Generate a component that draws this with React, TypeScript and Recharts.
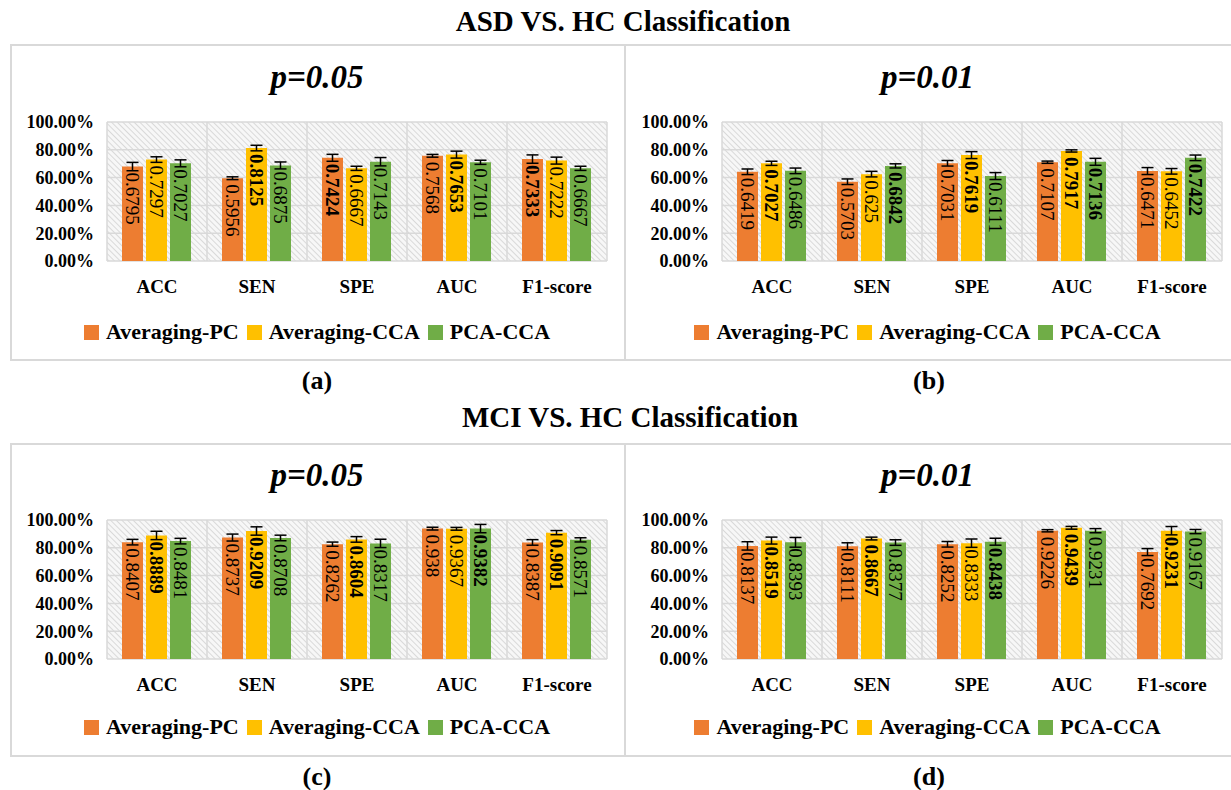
import React from 'react';
import { BarChart, Bar, XAxis, YAxis, CartesianGrid, ErrorBar, LabelList, Legend } from 'recharts';

// ---------- data ----------
const categories = ['ACC', 'SEN', 'SPE', 'AUC', 'F1-score'];
const seriesNames = ['Averaging-PC', 'Averaging-CCA', 'PCA-CCA'];
const yTicks = [0, 0.2, 0.4, 0.6, 0.8, 1.0];

// (a) ASD vs HC, p=0.05
const aPC = [0.6795, 0.5956, 0.7424, 0.7568, 0.7333];
const aCCA = [0.7297, 0.8125, 0.6667, 0.7653, 0.7222];
const aPCA = [0.7027, 0.6875, 0.7143, 0.7101, 0.6667];
const aPCErr = [0.03, 0.01, 0.025, 0.01, 0.03];
const aCCAErr = [0.02, 0.02, 0.015, 0.025, 0.025];
const aPCAErr = [0.025, 0.025, 0.03, 0.015, 0.015];
const aBold = [[], [1], [0], [1], [0]];

// (b) ASD vs HC, p=0.01
const bPC = [0.6419, 0.5703, 0.7031, 0.7107, 0.6471];
const bCCA = [0.7027, 0.625, 0.7619, 0.7917, 0.6452];
const bPCA = [0.6486, 0.6842, 0.6111, 0.7136, 0.7422];
const bPCErr = [0.02, 0.02, 0.02, 0.008, 0.025];
const bCCAErr = [0.015, 0.02, 0.025, 0.008, 0.02];
const bPCAErr = [0.02, 0.015, 0.025, 0.025, 0.02];
const bBold = [[1], [2], [1], [1, 2], [2]];

// (c) MCI vs HC, p=0.05
const cPC = [0.8407, 0.8737, 0.8262, 0.938, 0.8387];
const cCCA = [0.8889, 0.9209, 0.8604, 0.9367, 0.9091];
const cPCA = [0.8481, 0.8708, 0.8317, 0.9382, 0.8571];
const cPCErr = [0.02, 0.025, 0.015, 0.01, 0.02];
const cCCAErr = [0.03, 0.03, 0.02, 0.01, 0.015];
const cPCAErr = [0.02, 0.02, 0.03, 0.03, 0.015];
const cBold = [[1], [1], [1], [2], [1]];

// (d) MCI vs HC, p=0.01
const dPC = [0.8137, 0.8111, 0.8252, 0.9226, 0.7692];
const dCCA = [0.8519, 0.8667, 0.8333, 0.9439, 0.9231];
const dPCA = [0.8393, 0.8377, 0.8438, 0.9231, 0.9167];
const dPCErr = [0.03, 0.025, 0.02, 0.008, 0.025];
const dCCAErr = [0.025, 0.01, 0.03, 0.01, 0.03];
const dPCAErr = [0.035, 0.02, 0.025, 0.015, 0.015];
const dBold = [[1], [1], [2], [1], [1]];

// ---------- styles ----------
const FONT = '"Liberation Serif", "Times New Roman", Times, serif';
const COLORS = ['#ED7D31', '#FFC000', '#70AD47'];
const GRID = '#d9d9d9';

type Box = { left: number; top: number; w: number; h: number };
type Plot = { left: number; right: number; top: number; bottom: number };

const makeLabel = (bold: number[][], s: number) => (props: any) => {
  const { x, y, width, value, index } = props;
  if (value == null) return null;
  const cx = Number(x) + Number(width) / 2;
  const ty = Number(y) + 6;
  const isBold = bold[index] ? bold[index].includes(s) : false;
  return (
    <text
      x={0}
      y={0}
      transform={`translate(${cx},${ty}) rotate(90)`}
      textAnchor="start"
      dominantBaseline="central"
      fontFamily={FONT}
      fontSize={19}
      fontWeight={isBold ? 700 : 400}
      fill="#000"
    >
      {String(value)}
    </text>
  );
};

const renderLegend = () => {
  return (
    <div style={{ display: 'flex', justifyContent: 'center', alignItems: 'center', height: 26 }}>
      {seriesNames.map((n, i) => (
        <div key={n} style={{ display: 'flex', alignItems: 'center', marginRight: i < seriesNames.length - 1 ? 8 : 0 }}>
          <div style={{ width: 15, height: 15, background: COLORS[i], marginRight: 7 }} />
          <span style={{ fontFamily: FONT, fontWeight: 700, fontSize: 22, color: '#000', lineHeight: '26px' }}>
            {n}
          </span>
        </div>
      ))}
    </div>
  );
};

function Panel(props: {
  id: string;
  title: string;
  pc: number[];
  cca: number[];
  pca: number[];
  pcErr: number[];
  ccaErr: number[];
  pcaErr: number[];
  bold: number[][];
  box: Box;
  borderW: number;
  plot: Plot;
  titleY: number;
  legendY: number;
}) {
  const { id, title, pc, cca, pca, pcErr, ccaErr, pcaErr, bold, box, borderW, plot, titleY, legendY } = props;
  const data = categories.map((name, i) => ({
    name,
    pc: pc[i],
    cca: cca[i],
    pca: pca[i],
    pcErr: pcErr[i],
    ccaErr: ccaErr[i],
    pcaErr: pcaErr[i],
  }));
  const xAxisH = 40;
  const margin = {
    top: plot.top - box.top,
    right: box.left + box.w - plot.right,
    left: 0,
    bottom: box.top + box.h - plot.bottom - xAxisH,
  };
  const tsz = 33;
  return (
    <>
      <div
        style={{
          position: 'absolute',
          left: box.left,
          top: box.top,
          width: borderW,
          height: box.h,
          border: `2px solid ${GRID}`,
          boxSizing: 'border-box',
        }}
      />
      <div
        style={{
          position: 'absolute',
          left: box.left,
          top: titleY - tsz * 0.51,
          width: box.w,
          textAlign: 'center',
          fontFamily: FONT,
          fontWeight: 700,
          fontStyle: 'italic',
          fontSize: tsz,
          lineHeight: `${tsz}px`,
          color: '#000',
        }}
      >
        {title}
      </div>
      <div style={{ position: 'absolute', left: box.left, top: box.top, width: box.w, height: box.h }}>
        <BarChart
          width={box.w}
          height={box.h}
          data={data}
          margin={margin}
          barCategoryGap="15%"
          barGap={3}
        >
          <defs>
            <pattern
              id={`hatch-${id}`}
              patternUnits="userSpaceOnUse"
              width={4}
              height={4}
              patternTransform="rotate(-45)"
            >
              <rect x={0} y={0} width={4} height={4} fill="#f7f7f7" />
              <line x1={0} y1={0} x2={0} y2={4} stroke="#cfcfcf" strokeWidth={1.5} />
            </pattern>
          </defs>
          <CartesianGrid
            stroke={GRID}
            strokeWidth={1.5}
            fill={`url(#hatch-${id})`}
            fillOpacity={1}
            verticalCoordinatesGenerator={(p: any) => {
              const off = p.offset;
              return [0, 1, 2, 3, 4, 5].map((i) => off.left + (off.width * i) / categories.length);
            }}
          />
          <XAxis
            dataKey="name"
            height={xAxisH}
            axisLine={false}
            tickLine={false}
            tickSize={0}
            tickMargin={19}
            interval={0}
            tick={{ fontFamily: FONT, fontSize: 19, fontWeight: 700, fill: '#000' }}
          />
          <YAxis
            width={plot.left - box.left}
            domain={[0, 1]}
            ticks={yTicks}
            axisLine={false}
            tickLine={false}
            tickSize={0}
            tickMargin={13}
            interval={0}
            tickFormatter={(v: number) => `${(v * 100).toFixed(2)}%`}
            tick={{ fontFamily: FONT, fontSize: 18, fontWeight: 700, fill: '#000' }}
          />
          <Legend
            layout="horizontal"
            verticalAlign="middle"
            align="center"
            wrapperStyle={{ top: legendY - 13, left: 0, width: box.w, height: 26 }}
            content={renderLegend}
          />
          <Bar dataKey="pc" name={seriesNames[0]} fill={COLORS[0]} isAnimationActive={false}>
            <ErrorBar dataKey="pcErr" width={6} strokeWidth={1.5} stroke="#000" direction="y" />
            <LabelList dataKey="pc" content={makeLabel(bold, 0)} />
          </Bar>
          <Bar dataKey="cca" name={seriesNames[1]} fill={COLORS[1]} isAnimationActive={false}>
            <ErrorBar dataKey="ccaErr" width={6} strokeWidth={1.5} stroke="#000" direction="y" />
            <LabelList dataKey="cca" content={makeLabel(bold, 1)} />
          </Bar>
          <Bar dataKey="pca" name={seriesNames[2]} fill={COLORS[2]} isAnimationActive={false}>
            <ErrorBar dataKey="pcaErr" width={6} strokeWidth={1.5} stroke="#000" direction="y" />
            <LabelList dataKey="pca" content={makeLabel(bold, 2)} />
          </Bar>
        </BarChart>
      </div>
    </>
  );
}

const headStyle = (cx: number, cy: number, fs: number): React.CSSProperties => ({
  position: 'absolute',
  left: cx - 300,
  width: 600,
  top: cy - fs * 0.51,
  textAlign: 'center',
  fontFamily: FONT,
  fontWeight: 700,
  fontSize: fs,
  lineHeight: `${fs}px`,
  color: '#000',
  whiteSpace: 'nowrap',
});

export default function App() {
  const topA: Box = { left: 10, top: 44, w: 614, h: 317 };
  const topB: Box = { left: 624, top: 44, w: 607, h: 317 };
  const botC: Box = { left: 10, top: 443, w: 614, h: 314 };
  const botD: Box = { left: 624, top: 443, w: 607, h: 314 };
  return (
    <div
      style={{
        position: 'absolute',
        left: 0,
        top: 0,
        width: 1231,
        height: 790,
        background: '#fff',
        overflow: 'hidden',
      }}
    >
      <div style={headStyle(623, 22, 29)}>ASD VS. HC Classification</div>
      <div style={headStyle(630, 418, 29)}>MCI VS. HC Classification</div>

      <Panel
        id="a"
        title="p=0.05"
        pc={aPC}
        cca={aCCA}
        pca={aPCA}
        pcErr={aPCErr}
        ccaErr={aCCAErr}
        pcaErr={aPCAErr}
        bold={aBold}
        box={topA}
        borderW={616}
        plot={{ left: 107, right: 607, top: 122, bottom: 261 }}
        titleY={78}
        legendY={288}
      />
      <Panel
        id="b"
        title="p=0.01"
        pc={bPC}
        cca={bCCA}
        pca={bPCA}
        pcErr={bPCErr}
        ccaErr={bCCAErr}
        pcaErr={bPCAErr}
        bold={bBold}
        box={topB}
        borderW={620}
        plot={{ left: 722, right: 1222, top: 122, bottom: 261 }}
        titleY={78}
        legendY={288}
      />
      <Panel
        id="c"
        title="p=0.05"
        pc={cPC}
        cca={cCCA}
        pca={cPCA}
        pcErr={cPCErr}
        ccaErr={cCCAErr}
        pcaErr={cPCAErr}
        bold={cBold}
        box={botC}
        borderW={616}
        plot={{ left: 107, right: 607, top: 520, bottom: 659 }}
        titleY={476}
        legendY={284}
      />
      <Panel
        id="d"
        title="p=0.01"
        pc={dPC}
        cca={dCCA}
        pca={dPCA}
        pcErr={dPCErr}
        ccaErr={dCCAErr}
        pcaErr={dPCAErr}
        bold={dBold}
        box={botD}
        borderW={620}
        plot={{ left: 722, right: 1222, top: 520, bottom: 659 }}
        titleY={476}
        legendY={284}
      />

      <div style={headStyle(317, 381, 26)}>(a)</div>
      <div style={headStyle(929, 381, 26)}>(b)</div>
      <div style={headStyle(317, 777, 26)}>(c)</div>
      <div style={headStyle(929, 777, 26)}>(d)</div>
    </div>
  );
}
